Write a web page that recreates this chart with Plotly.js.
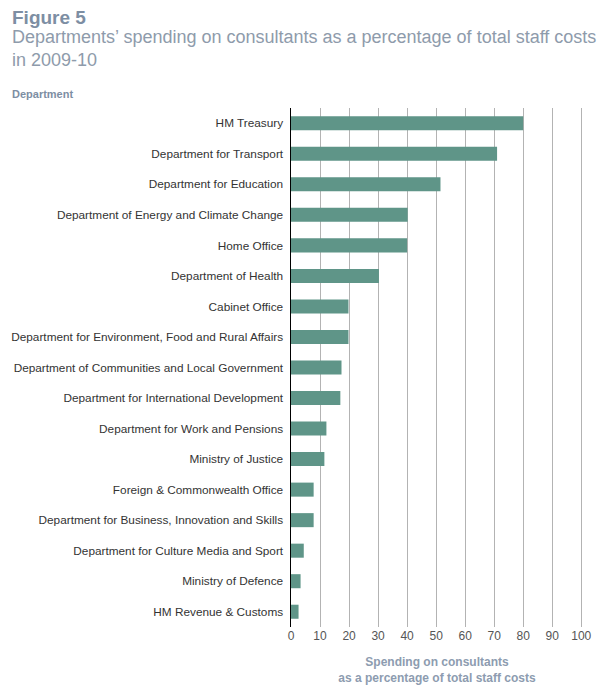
<!DOCTYPE html>
<html><head><meta charset="utf-8">
<script src="https://cdn.plot.ly/plotly-3.0.1.min.js"></script>
<style>html,body{margin:0;padding:0;background:#fff;}#chart{width:603px;height:691px;}</style>
</head><body><div id="chart"></div>
<script>
const departments = [
  "HM Treasury",
  "Department for Transport",
  "Department for Education",
  "Department of Energy and Climate Change",
  "Home Office",
  "Department of Health",
  "Cabinet Office",
  "Department for Environment, Food and Rural Affairs",
  "Department of Communities and Local Government",
  "Department for International Development",
  "Department for Work and Pensions",
  "Ministry of Justice",
  "Foreign & Commonwealth Office",
  "Department for Business, Innovation and Skills",
  "Department for Culture Media and Sport",
  "Ministry of Defence",
  "HM Revenue & Customs"
];
const spendingPct = [80, 71, 51.5, 40.2, 40, 30.3, 19.8, 19.8, 17.4, 17, 12.2, 11.5, 7.8, 7.8, 4.4, 3.3, 2.6];
const xTicks = [0,10,20,30,40,50,60,70,80,90,100];

const L=291, R=20, T=108, B=64, W=603, H=691;
const pw = W-L-R, ph = H-T-B;
const px = x => (x-L)/pw;
const py = y => (H-B-y)/ph;

const trace = {
  type:'bar', orientation:'h',
  y: departments, x: spendingPct,
  marker:{color:'#5f9588'},
  hoverinfo:'x+y'
};
const layout = {
  width:W, height:H,
  margin:{l:L, r:R, t:T, b:B, pad:0},
  paper_bgcolor:'#fff', plot_bgcolor:'#fff',
  showlegend:false,
  bargap:0.54,
  font:{family:'"Liberation Sans", Arial, sans-serif', size:12, color:'#333'},
  xaxis:{
    range:[0,100.6], tickvals:xTicks, ticktext:xTicks.map(String),
    showgrid:true, gridcolor:'#b3b3b3', gridwidth:1,
    zeroline:false, showline:false, ticks:'',
    tickfont:{size:12, color:'#555'},
    title:{text:'<b>Spending on consultants<br>as a percentage of total staff costs</b>',
      font:{size:12, color:'#8d9cb0'}, standoff:15}
  },
  yaxis:{
    autorange:'reversed', categoryorder:'array', categoryarray:departments,
    showgrid:false, zeroline:false, showline:true, linecolor:'#000', linewidth:1.5,
    ticks:'', ticklabelstandoff:4,
    tickfont:{size:11.8, color:'#333'}
  },
  annotations:[
    {xref:'paper', yref:'paper', x:px(10), y:py(5), xanchor:'left', yanchor:'top', showarrow:false,
     text:'<b>Figure 5</b>', font:{size:19, color:'#7d8ea3'}},
    {xref:'paper', yref:'paper', x:px(10), y:py(25), xanchor:'left', yanchor:'top', showarrow:false, align:'left',
     text:'Departments’ spending on consultants as a percentage of total staff costs<br>in 2009-10',
     font:{size:18, color:'#8e9bab'}},
    {xref:'paper', yref:'paper', x:px(10), y:py(86), xanchor:'left', yanchor:'top', showarrow:false,
     text:'<b>Department</b>', font:{size:11, color:'#7d8ea3'}}
  ]
};
Plotly.newPlot('chart',[trace],layout,{displayModeBar:false, staticPlot:true});
</script></body></html>
